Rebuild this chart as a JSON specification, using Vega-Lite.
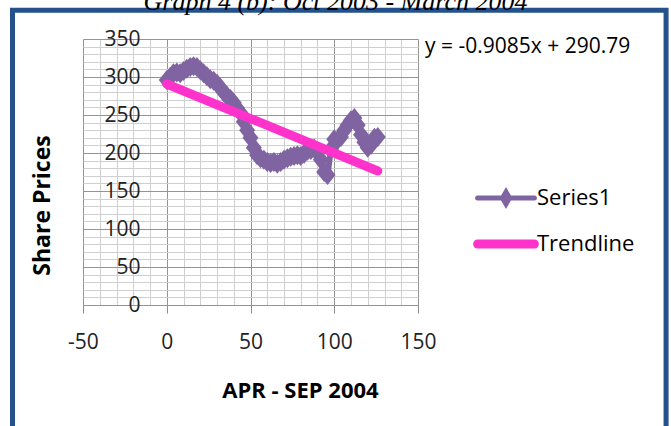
{
  "$schema": "https://vega.github.io/schema/vega-lite/v6.json",
  "width": 335,
  "height": 266,
  "autosize": "none",
  "padding": {"left": 83, "top": 39, "right": 253, "bottom": 121},
  "background": "white",
  "title": {
    "text": "Graph 4 (b): Oct 2003 - March 2004",
    "font": "Liberation Serif",
    "fontSize": 26,
    "fontStyle": "italic",
    "fontWeight": "normal",
    "color": "black",
    "anchor": "middle",
    "frame": "group",
    "baseline": "alphabetic",
    "dx": 85,
    "offset": -28
  },
  "config": {
    "view": {"stroke": null},
    "font": "Open Sans"
  },
  "datasets": {
    "series": [
      {"x": 0, "y": 296, "series": "Series1"},
      {"x": 2, "y": 300, "series": "Series1"},
      {"x": 4, "y": 305, "series": "Series1"},
      {"x": 6, "y": 306, "series": "Series1"},
      {"x": 8, "y": 305, "series": "Series1"},
      {"x": 10, "y": 308, "series": "Series1"},
      {"x": 12, "y": 311, "series": "Series1"},
      {"x": 14, "y": 313, "series": "Series1"},
      {"x": 16, "y": 314, "series": "Series1"},
      {"x": 18, "y": 313, "series": "Series1"},
      {"x": 20, "y": 309, "series": "Series1"},
      {"x": 22, "y": 305, "series": "Series1"},
      {"x": 24, "y": 301, "series": "Series1"},
      {"x": 26, "y": 297, "series": "Series1"},
      {"x": 28, "y": 295, "series": "Series1"},
      {"x": 30, "y": 291, "series": "Series1"},
      {"x": 32, "y": 286, "series": "Series1"},
      {"x": 34, "y": 280, "series": "Series1"},
      {"x": 36, "y": 275, "series": "Series1"},
      {"x": 38, "y": 271, "series": "Series1"},
      {"x": 40, "y": 266, "series": "Series1"},
      {"x": 42, "y": 259, "series": "Series1"},
      {"x": 44, "y": 253, "series": "Series1"},
      {"x": 46, "y": 241, "series": "Series1"},
      {"x": 48, "y": 230, "series": "Series1"},
      {"x": 50, "y": 220, "series": "Series1"},
      {"x": 52, "y": 207, "series": "Series1"},
      {"x": 54, "y": 197, "series": "Series1"},
      {"x": 56, "y": 193, "series": "Series1"},
      {"x": 58, "y": 191, "series": "Series1"},
      {"x": 60, "y": 188, "series": "Series1"},
      {"x": 62, "y": 187, "series": "Series1"},
      {"x": 64, "y": 188, "series": "Series1"},
      {"x": 66, "y": 186, "series": "Series1"},
      {"x": 68, "y": 188, "series": "Series1"},
      {"x": 70, "y": 191, "series": "Series1"},
      {"x": 72, "y": 193, "series": "Series1"},
      {"x": 74, "y": 195, "series": "Series1"},
      {"x": 76, "y": 196, "series": "Series1"},
      {"x": 78, "y": 197, "series": "Series1"},
      {"x": 80, "y": 196, "series": "Series1"},
      {"x": 82, "y": 199, "series": "Series1"},
      {"x": 84, "y": 203, "series": "Series1"},
      {"x": 86, "y": 204, "series": "Series1"},
      {"x": 88, "y": 206, "series": "Series1"},
      {"x": 90, "y": 201, "series": "Series1"},
      {"x": 92, "y": 191, "series": "Series1"},
      {"x": 94, "y": 175, "series": "Series1"},
      {"x": 96, "y": 171, "series": "Series1"},
      {"x": 98, "y": 205, "series": "Series1"},
      {"x": 100, "y": 218, "series": "Series1"},
      {"x": 102, "y": 217, "series": "Series1"},
      {"x": 104, "y": 221, "series": "Series1"},
      {"x": 106, "y": 230, "series": "Series1"},
      {"x": 108, "y": 237, "series": "Series1"},
      {"x": 110, "y": 243, "series": "Series1"},
      {"x": 112, "y": 246, "series": "Series1"},
      {"x": 114, "y": 237, "series": "Series1"},
      {"x": 116, "y": 224, "series": "Series1"},
      {"x": 118, "y": 214, "series": "Series1"},
      {"x": 120, "y": 207, "series": "Series1"},
      {"x": 122, "y": 211, "series": "Series1"},
      {"x": 124, "y": 220, "series": "Series1"},
      {"x": 126, "y": 221, "series": "Series1"}
    ],
    "trend": [
      {"x": 0, "y": 290.79, "series": "Trendline"},
      {"x": 126, "y": 176.32, "series": "Trendline"}
    ]
  },
  "layer": [
    {
      "data": {"values": [{"frame": "border"}]},
      "mark": {"type": "rect", "filled": false, "stroke": "#24508C", "strokeWidth": 5, "clip": false},
      "encoding": {
        "x": {"datum": -92.1, "type": "quantitative"},
        "x2": {"datum": 298.1},
        "y": {"datum": 387.9, "type": "quantitative"},
        "y2": {"datum": -178}
      }
    },
    {
      "data": {"name": "series"},
      "mark": {
        "type": "line",
        "strokeWidth": 6,
        "clip": false,
        "point": {"shape": "M0,-1L0.8,0L0,1L-0.8,0Z", "size": 400, "filled": true, "opacity": 1}
      },
      "encoding": {
        "x": {
          "field": "x",
          "type": "quantitative",
          "scale": {"domain": [-50, 150], "nice": false, "zero": false},
          "axis": {
            "values": [-50, -40, -30, -20, -10, 0, 10, 20, 30, 40, 50, 60, 70, 80, 90, 100, 110, 120, 130, 140, 150],
            "tickCount": 200,
            "labelExpr": "datum.value % 50 === 0 ? '' + datum.value : ''",
            "labelOverlap": false,
            "labelFlush": false,
            "labelBound": false,
            "labelFont": "Open Sans",
            "labelFontSize": 21,
            "labelColor": "#222222",
            "labelBaseline": "middle",
            "labelPadding": 29,
            "tickSize": 8,
            "tickColor": {"condition": {"test": "datum.value % 50 === 0", "value": "#8C8C8C"}, "value": "transparent"},
            "grid": true,
            "gridColor": {"condition": {"test": "datum.value % 50 === 0", "value": "#949494"}, "value": "#CFCFCF"},
            "domainColor": "#949494",
            "title": "APR - SEP 2004",
            "titleFont": "Open Sans",
            "titleFontSize": 22,
            "titleFontWeight": "bold",
            "titleColor": "black",
            "titleX": 217,
            "titleY": 85,
            "titleAlign": "center",
            "titleBaseline": "middle"
          }
        },
        "y": {
          "field": "y",
          "type": "quantitative",
          "scale": {"domain": [0, 350], "nice": false, "zero": true},
          "axis": {
            "values": [0, 10, 20, 30, 40, 50, 60, 70, 80, 90, 100, 110, 120, 130, 140, 150, 160, 170, 180, 190, 200, 210, 220, 230, 240, 250, 260, 270, 280, 290, 300, 310, 320, 330, 340, 350],
            "tickCount": 200,
            "labelExpr": "datum.value % 50 === 0 ? '' + datum.value : ''",
            "labelOverlap": false,
            "labelFlush": false,
            "labelBound": false,
            "labelFont": "Open Sans",
            "labelFontSize": 21,
            "labelColor": "#222222",
            "labelAlign": "right",
            "labelBaseline": "middle",
            "labelPadding": -57,
            "ticks": false,
            "tickSize": 0,
            "domain": false,
            "grid": true,
            "gridColor": {"condition": {"test": "datum.value % 50 === 0", "value": "#949494"}, "value": "#CFCFCF"},
            "title": "Share Prices",
            "titleFont": "Open Sans",
            "titleFontSize": 23,
            "titleFontWeight": "bold",
            "titleColor": "black",
            "titleX": -41,
            "titleY": 166,
            "titleAngle": 270,
            "titleAlign": "center",
            "titleBaseline": "middle"
          }
        },
        "color": {
          "field": "series",
          "type": "nominal",
          "scale": {"domain": ["Series1", "Trendline"], "range": ["#8064A2", "#FF33CC"]},
          "legend": {
            "orient": "none",
            "legendX": 342,
            "legendY": -3,
            "padding": 0,
            "title": "y = -0.9085x + 290.79",
            "titleFont": "Open Sans",
            "titleFontSize": 21,
            "titleFontWeight": "normal",
            "titleColor": "black",
            "titleLimit": 400,
            "titlePadding": 130,
            "titleAnchor": "start",
            "labelFont": "Open Sans",
            "labelFontSize": 22,
            "labelColor": "black",
            "labelLimit": 300,
            "labelOffset": 20,
            "symbolSize": 1600,
            "symbolOffset": 70,
            "rowPadding": 12,
            "encode": {
              "symbols": {
                "update": {
                  "shape": {"signal": "datum.value === 'Series1' ? 'M-1.42,0H1.42M0,-0.3L0.175,0L0,0.3L-0.175,0Z' : 'M-1.42,0H1.42'"},
                  "stroke": {"signal": "datum.value === 'Series1' ? '#8064A2' : '#FF33CC'"},
                  "fill": {"signal": "datum.value === 'Series1' ? '#8064A2' : 'transparent'"},
                  "strokeWidth": {"signal": "datum.value === 'Series1' ? 5 : 9"},
                  "strokeCap": {"value": "round"},
                  "opacity": {"value": 1}
                }
              }
            }
          }
        }
      }
    },
    {
      "data": {"name": "trend"},
      "mark": {"type": "line", "strokeWidth": 9, "strokeCap": "round", "clip": false},
      "encoding": {
        "x": {"field": "x", "type": "quantitative"},
        "y": {"field": "y", "type": "quantitative"},
        "color": {"field": "series", "type": "nominal"}
      }
    }
  ]
}
